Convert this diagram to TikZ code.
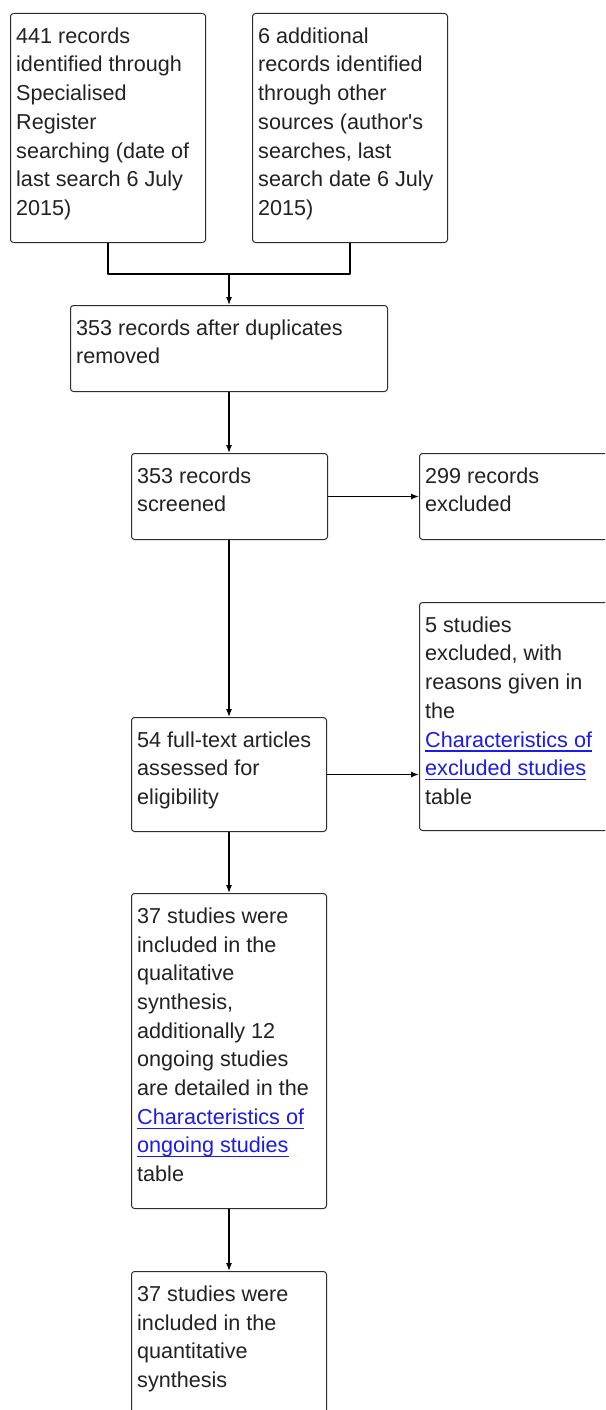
\documentclass[tikz,border=0pt]{standalone}
\usepackage{fontspec}
\newfontfamily\flowfont{Liberation Sans}
\usetikzlibrary{arrows.meta}
\definecolor{linkblue}{RGB}{28,28,230}
\definecolor{inkgray}{RGB}{34,34,34}
\definecolor{boxgray}{RGB}{45,45,45}
\newcommand{\reflink}[1]{{\color{linkblue}\setbox0\hbox{#1}\rlap{\rule[-4.5pt]{\wd0}{1.2pt}}\box0}}
\begin{document}
\begin{tikzpicture}[x=1pt,y=-1pt,>={Latex[length=8pt,width=6pt]},
	box/.style={draw=boxgray,line width=1pt,rounded corners=3pt,anchor=north west,inner sep=0pt},
	txt/.style={anchor=north west,inner xsep=6pt,inner ysep=10pt,align=left,text=inkgray,font=\flowfont\fontsize{21.6}{28.7}\selectfont},
	wire/.style={line width=1.3pt,line join=round},
	link/.style={wire,->}]
	\useasboundingbox (0,0) rectangle (605,1410);
	\fill[white] (0,0) rectangle (605,1410);
	\clip (0,0) rectangle (605,1410);
	% boxes
	\node[box,minimum width=195,minimum height=229] (recA) at (10,13) {};
	\node[box,minimum width=195,minimum height=229] (recB) at (252,13) {};
	\node[box,minimum width=317,minimum height=86] (dedup) at (70,305) {};
	\node[box,minimum width=196,minimum height=86] (screen) at (131,453) {};
	\node[box,minimum width=221,minimum height=86] (exclA) at (419,453) {};
	\node[box,minimum width=221,minimum height=228] (exclB) at (419,602) {};
	\node[box,minimum width=195,minimum height=114] (fulltext) at (131,717) {};
	\node[box,minimum width=195,minimum height=315] (qual) at (131,893) {};
	\node[box,minimum width=195,minimum height=169] (quant) at (131,1271) {};
	% texts
	\node[txt] (txtA) at (recA.north west) {\strut 441 records\\identified through\\Specialised\\Register\\searching (date of\\last search 6 July\\2015)};
	\node[txt] (txtB) at (recB.north west) {\strut 6 additional\\records identified\\through other\\sources (author's\\searches, last\\search date 6 July\\2015)};
	\node[txt] (txtdedup) at (dedup.north west) {\strut 353 records after duplicates\\removed};
	\node[txt] (txtscreen) at (screen.north west) {\strut 353 records\\screened};
	\node[txt] (txtexclA) at (exclA.north west) {\strut 299 records\\excluded};
	\node[txt] (txtexclB) at (exclB.north west) {\strut 5 studies\\excluded, with\\reasons given in\\the\\\reflink{Characteristics of}\\\reflink{excluded studies}\\table};
	\node[txt] (txtfull) at (fulltext.north west) {\strut 54 full-text articles\\assessed for\\eligibility};
	\node[txt] (txtqual) at (qual.north west) {\strut 37 studies were\\included in the\\qualitative\\synthesis,\\additionally 12\\ongoing studies\\are detailed in the\\\reflink{Characteristics of}\\\reflink{ongoing studies}\\table};
	\node[txt] (txtquant) at (quant.north west) {\strut 37 studies were\\included in the\\quantitative\\synthesis};
	% connectors
	\coordinate (merge) at (229,274);
	\draw[wire] (recA.south) |- (merge) -| (recB.south);
	\draw[link] (merge) -- (merge |- dedup.north);
	\draw[link] (merge |- dedup.south) -- (merge |- screen.north);
	\draw[link] (screen.east) -- (screen.east -| exclA.west);
	\draw[link] (merge |- screen.south) -- (merge |- fulltext.north);
	\draw[link] (fulltext.east) -- (fulltext.east -| exclB.west);
	\draw[link] (merge |- fulltext.south) -- (merge |- qual.north);
	\draw[link] (merge |- qual.south) -- (merge |- quant.north);
\end{tikzpicture}
\end{document}
